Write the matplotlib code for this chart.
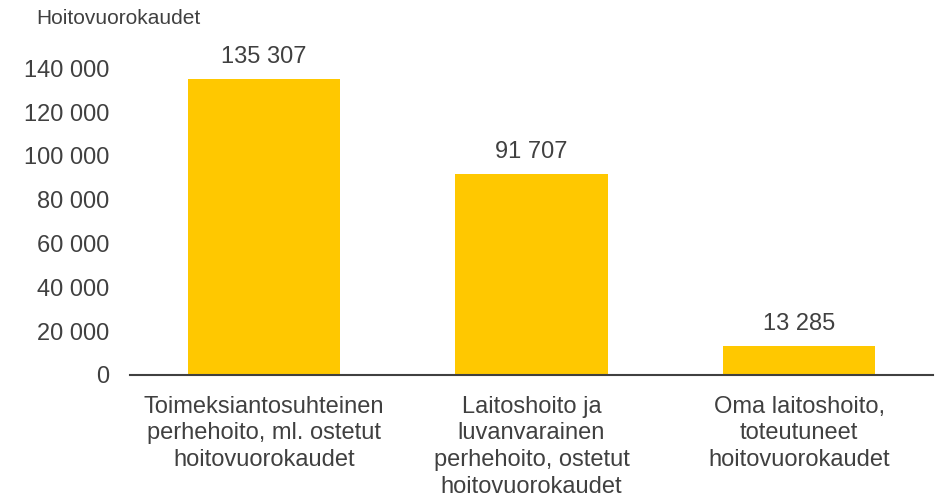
import matplotlib.pyplot as plt
from matplotlib.ticker import FuncFormatter

# Tiedot
kategoriat = ["Toimeksiantosuhteinen\nperhehoito, ml. ostetut\nhoitovuorokaudet",
              "Laitoshoito ja\nluvanvarainen\nperhehoito, ostetut\nhoitovuorokaudet",
              "Oma laitoshoito,\ntoteutuneet\nhoitovuorokaudet"]
arvot = [135307, 91707, 13285]
y_tikit = [0, 20000, 40000, 60000, 80000, 100000, 120000, 140000]
otsikko = "Hoitovuorokaudet"

TEKSTI = "#404040"
KELTAINEN = "#FFC800"

def tuhaterotin(v, pos=None):
    return f"{int(v):,}".replace(",", " ")

plt.rcParams["font.family"] = ["Liberation Sans", "DejaVu Sans"]

fig = plt.figure(figsize=(9.38, 4.97), dpi=100)
ax = fig.add_axes([0.1386, 0.2455, 0.8561, 0.705])

x = range(len(arvot))
ax.bar(x, arvot, width=0.57, color=KELTAINEN, zorder=2)

for xi, v in zip(x, arvot):
    ax.annotate(tuhaterotin(v), (xi, v), xytext=(0, 8), textcoords="offset points",
                ha="center", va="bottom", fontsize=17, color=TEKSTI)

ax.set_xlim(-0.5, len(arvot) - 0.5)
ax.set_ylim(0, 160000)
ax.set_yticks(y_tikit)
ax.yaxis.set_major_formatter(FuncFormatter(tuhaterotin))
ax.set_xticks(list(x))
ax.set_xticklabels(kategoriat, fontsize=17, color=TEKSTI, linespacing=1.27)

ax.tick_params(axis="y", length=0, pad=15, labelsize=17, labelcolor=TEKSTI)
ax.tick_params(axis="x", length=0, pad=15)

for s in ["top", "right", "left"]:
    ax.spines[s].set_visible(False)
ax.spines["bottom"].set_color(TEKSTI)
ax.spines["bottom"].set_linewidth(1.5)
ax.spines["bottom"].set_zorder(3)

fig.text(36 / 938, 1 - 18 / 497, otsikko, fontsize=15, color=TEKSTI,
         ha="left", va="center")

fig.savefig("out.png", dpi=100)
